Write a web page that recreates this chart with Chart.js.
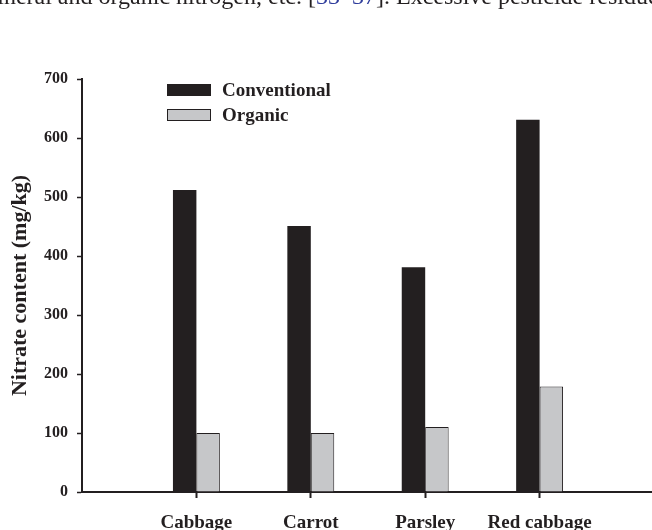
<!DOCTYPE html>
<html>
<head>
<meta charset="utf-8">
<script src="https://cdn.jsdelivr.net/npm/chart.js@4.4.1/dist/chart.umd.min.js"></script>
<style>
  html, body { margin: 0; padding: 0; background: #fff; overflow: hidden; }
  #wrap { position: absolute; left: 0; top: 0; width: 668px; height: 530px; }
  .txt { position: absolute; top: -16px; font: 24px/24px "Liberation Serif", serif; color: #231f20; white-space: nowrap; }
  #txtL { right: 344px; text-align: right; }
  #txtR { left: 308px; }
  .ref { color: #2f3d9c; }
</style>
</head>
<body>
<div id="wrap"><canvas id="myChart" width="668" height="530"></canvas></div>
<div class="txt" id="txtL">fertilizers containing mineral and organic nitrogen, etc.&nbsp;</div>
<div class="txt" id="txtR">[<span class="ref">33–37</span>]. Excessive pesticide residues in</div>
<script>
const categories = ['Cabbage', 'Carrot', 'Parsley', 'Red cabbage'];
const conventional = [512, 451, 381, 631];
const organic = [100, 100, 110, 179];
const yTicks = [0, 100, 200, 300, 400, 500, 600, 700];

const ink = '#231f20';
const serif = '"Liberation Serif", "Times New Roman", serif';

// empty slot on both sides so the groups sit like in the original plot
const labels = [''].concat(categories, ['']);
const pad = arr => [null].concat(arr, [null]);

const legendBoxes = {
  id: 'legendBoxes',
  afterDraw(chart) {
    const {ctx, chartArea} = chart;
    ctx.save();
    ctx.font = 'bold 19px ' + serif;
    ctx.textBaseline = 'middle';
    chart.data.datasets.forEach((ds, i) => {
      const x = chartArea.left + 85;
      const y = chartArea.top + 5 + i * 25;
      ctx.fillStyle = ds.backgroundColor;
      ctx.fillRect(x, y, 44, 12);
      ctx.strokeStyle = ink;
      ctx.lineWidth = 1;
      ctx.strokeRect(x + 0.5, y + 0.5, 43, 11);
      ctx.fillStyle = ink;
      ctx.fillText(ds.label, x + 55, y + 7);
    });
    ctx.restore();
  }
};

const ctx = document.getElementById('myChart');
const myChart = new Chart(ctx, {
  type: 'bar',
  data: {
    labels: labels,
    datasets: [{
      label: 'Conventional',
      data: pad(conventional),
      backgroundColor: ink,
      borderWidth: 0
    }, {
      label: 'Organic',
      data: pad(organic),
      backgroundColor: '#c6c7c9',
      borderColor: ink,
      borderWidth: 1
    }]
  },
  options: {
    responsive: false,
    animation: false,
    categoryPercentage: 0.41,
    barPercentage: 1.0,
    layout: { padding: { top: 79, right: 0, left: 0, bottom: 0 } },
    plugins: {
      legend: { display: false },
      tooltip: { enabled: false }
    },
    scales: {
      x: {
        offset: false,
        afterFit(scale) { scale.height = 38; },
        border: { display: true, color: ink, width: 2 },
        grid: {
          offset: false,
          drawOnChartArea: false,
          tickLength: 6,
          tickWidth: 2,
          tickColor: c => (c.index === 0 || c.index === labels.length - 1) ? 'rgba(0,0,0,0)' : ink
        },
        ticks: {
          autoSkip: false,
          maxRotation: 0,
          padding: 14,
          color: ink,
          font: { family: serif, size: 19, weight: 'bold' }
        }
      },
      y: {
        min: 0,
        max: 700,
        afterFit(scale) { scale.width = 82; },
        afterBuildTicks(scale) { scale.ticks = yTicks.map(v => ({ value: v })); },
        border: { display: true, color: ink, width: 2 },
        grid: { drawOnChartArea: false, tickLength: 5, tickWidth: 1.5, tickColor: ink },
        ticks: {
          padding: 9,
          color: ink,
          font: { family: serif, size: 16, weight: 'bold' }
        },
        title: {
          display: true,
          text: 'Nitrate content (mg/kg)',
          color: ink,
          padding: { top: 7, bottom: 0 },
          font: { family: serif, size: 22, weight: 'bold' }
        }
      }
    }
  },
  plugins: [legendBoxes]
});
</script>
</body>
</html>
